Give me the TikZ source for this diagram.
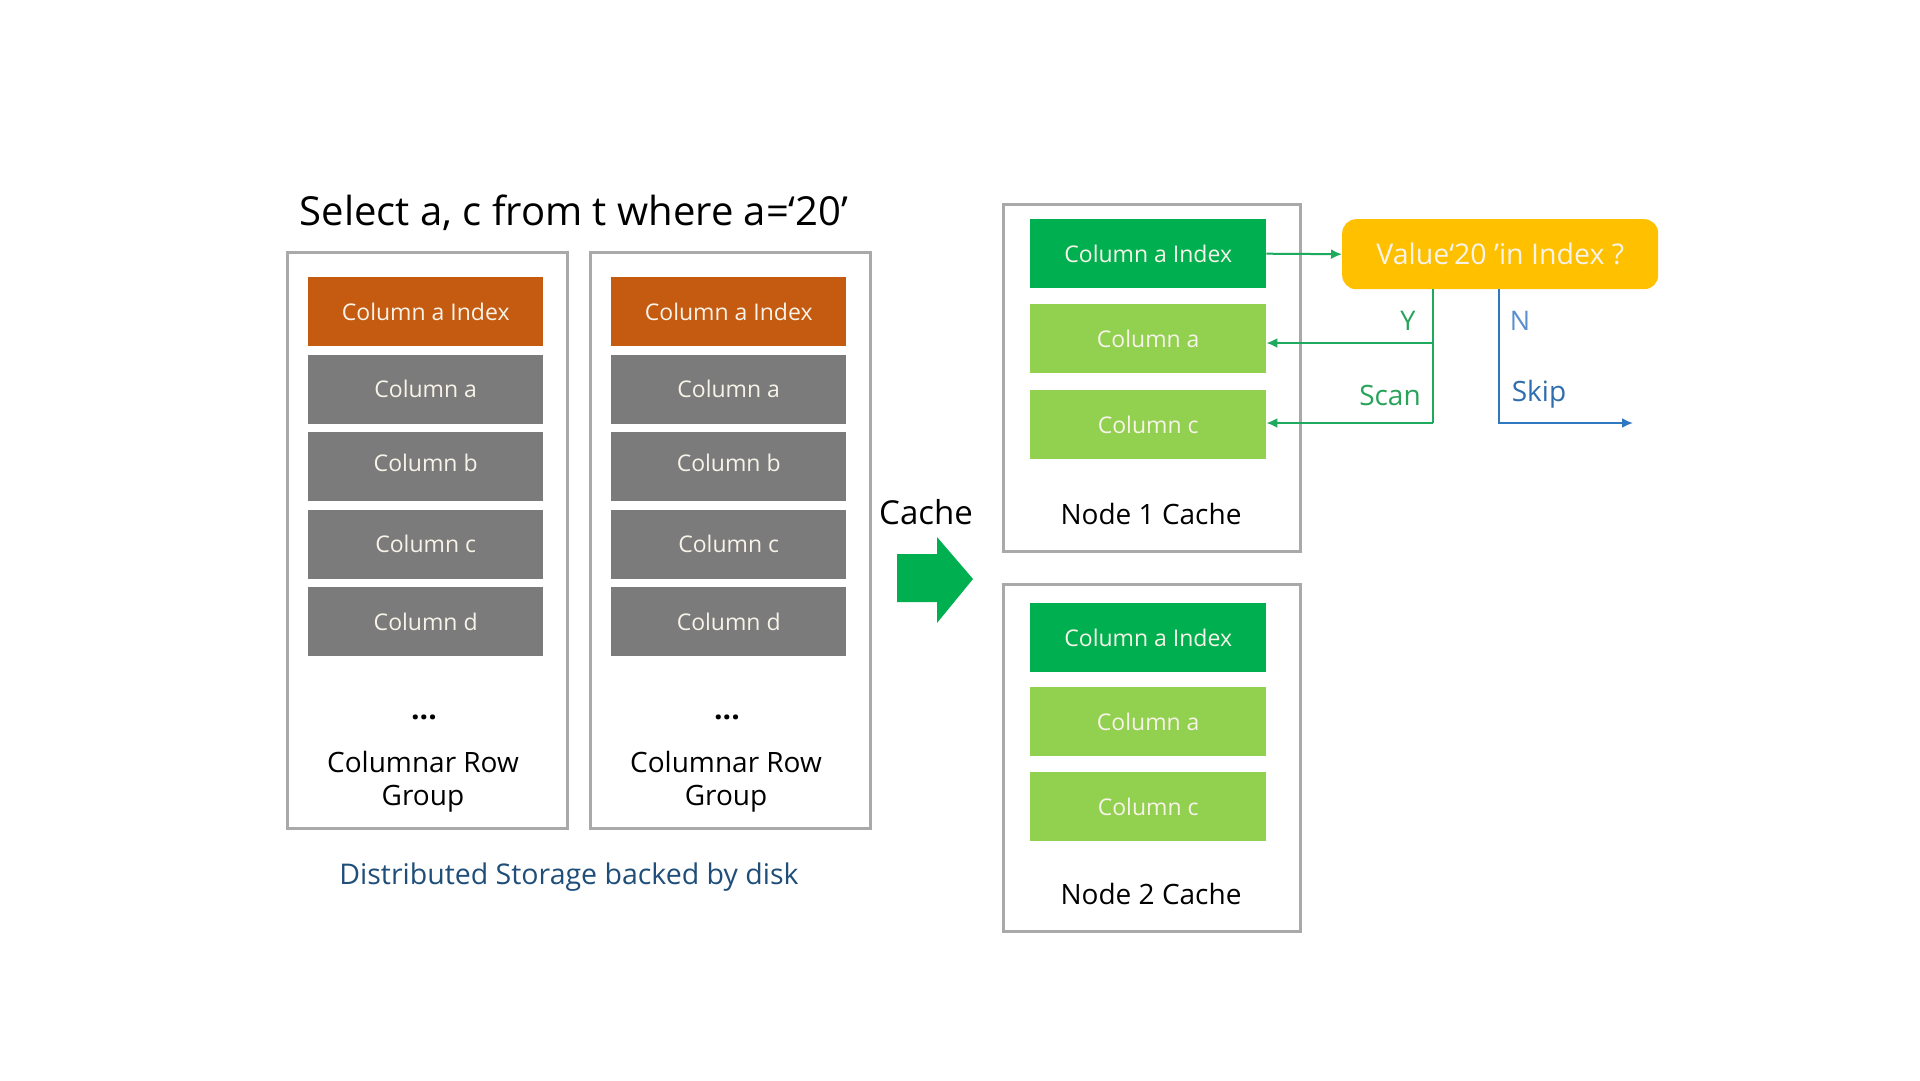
\documentclass[tikz,border=0pt]{standalone}
\usepackage{fontspec}
\setmainfont{Open Sans}
\usetikzlibrary{arrows.meta,calc}
\definecolor{orng}{HTML}{C55A11}
\definecolor{gry}{HTML}{7B7B7B}
\definecolor{dkgreen}{HTML}{00B050}
\definecolor{ltgreen}{HTML}{92D050}
\definecolor{yel}{HTML}{FFC000}
\definecolor{boxgray}{HTML}{A9A9A9}
\definecolor{boxtext}{HTML}{F7F3E8}
\definecolor{navy}{HTML}{1F4E79}
\definecolor{lineg}{HTML}{1DAA5C}
\definecolor{scang}{HTML}{27A35A}
\definecolor{lineb}{HTML}{2E78C0}
\definecolor{skipb}{HTML}{2F6EAE}
\definecolor{nblue}{HTML}{5B8FD0}
\begin{document}
\begin{tikzpicture}[x=1pt,y=-1pt,
  outerbox/.style={draw=boxgray, line width=2.5pt, anchor=north west, inner sep=0pt},
  colbox/.style={minimum width=235pt, minimum height=69pt, inner sep=0pt, text=boxtext,
    font=\fontsize{23}{27}\selectfont, anchor=north west},
  lbl/.style={font=\fontsize{28}{33}\selectfont, text=black, inner sep=0pt, align=center},
  dotsty/.style={font=\fontsize{30}{33}\selectfont\bfseries, inner sep=0pt},
  garrow/.style={draw=lineg, line width=2pt, -{Latex[length=11pt,width=10pt]}},
  barrow/.style={draw=lineb, line width=2pt, -{Latex[length=11pt,width=10pt]}},
  gline/.style={draw=lineg, line width=2pt},
  bline/.style={draw=lineb, line width=2pt}]
\useasboundingbox[fill=white] (0,0) rectangle (1920,1080);

% title
\node[font=\fontsize{40}{48}\selectfont, anchor=base, inner sep=0pt] (title) at (574,225) {Select a, c from t where a=‘20’};

% row groups
\foreach \g/\ox/\ix in {1/286/308, 2/589/611} {
  \node[outerbox, minimum width=280pt, minimum height=576pt] (rg\g) at (\ox,251) {};
  \node[colbox, fill=orng] (rg\g idx) at (\ix,277) {Column a Index};
  \node[colbox, fill=gry] (rg\g a) at (\ix,354.5) {Column a};
  \node[colbox, fill=gry] (rg\g b) at (\ix,432) {\raisebox{7pt}{Column b}};
  \node[colbox, fill=gry] (rg\g c) at (\ix,509.5) {Column c};
  \node[colbox, fill=gry] (rg\g d) at (\ix,587) {Column d};
  \node[dotsty] (rg\g dots) at ({\ox+138},717) {...};
  \node[lbl] (rg\g lbl) at ({\ox+137},782) {Columnar Row\\Group};
}

\node[font=\fontsize{28.5}{32}\selectfont, text=navy, inner sep=0pt] (dist) at (569,877) {Distributed Storage backed by disk};

% cache arrow
\node[font=\fontsize{33}{38}\selectfont, inner sep=0pt] (cachelbl) at (926,512) {Cache};
\fill[dkgreen] (897,554) -- (937,554) -- (937,537) -- (973,579) -- (937,623) -- (937,602) -- (897,602) -- cycle;

% node caches
\foreach \n/\oy/\di/\da/\dc in {1/203/16/101/187, 2/583/20/104/189} {
  \node[outerbox, minimum width=297pt, minimum height=347pt] (nc\n) at (1002,\oy) {};
  \node[colbox, minimum width=236pt, fill=dkgreen] (nc\n idx) at (1030,{\oy+\di}) {Column a Index};
  \node[colbox, minimum width=236pt, fill=ltgreen] (nc\n a) at (1030,{\oy+\da}) {Column a};
  \node[colbox, minimum width=236pt, fill=ltgreen] (nc\n c) at (1030,{\oy+\dc}) {Column c};
  \node[lbl] (nc\n lbl) at (1151,{\oy+311}) {Node \n\ Cache};
}

% decision
\node[fill=yel, rounded corners=14pt, minimum width=316pt, minimum height=70pt, inner sep=0pt,
  text=boxtext, font=\fontsize{28.5}{33}\selectfont, anchor=north west] (val) at (1342,219) {Value‘20 ’in Index ?};

\draw[garrow] (nc1idx.east) -- (val.west);

\coordinate (ymid) at (1433,343);
\coordinate (ybot) at (1433,423);
\coordinate (nbot) at (1499,423);
\coordinate (skipend) at (1633,423);

\draw[gline] (val.south -| ybot) -- (ybot);
\draw[garrow] (ymid) -- (ymid -| nc1a.east);
\draw[garrow] (ybot) -- (ybot -| nc1c.east);
\draw[barrow] (val.south -| nbot) -- (nbot) -- (skipend);

\node[font=\fontsize{27}{30}\selectfont, text=scang, inner sep=0pt] (ylbl) at (1408,321) {Y};
\node[font=\fontsize{28}{32}\selectfont, text=scang, inner sep=0pt] (scanlbl) at (1390,395) {Scan};
\node[font=\fontsize{27}{30}\selectfont, text=nblue, inner sep=0pt] (nlbl) at (1520,321) {N};
\node[font=\fontsize{28}{32}\selectfont, text=skipb, inner sep=0pt] (skiplbl) at (1539,394) {Skip};
\end{tikzpicture}
\end{document}
